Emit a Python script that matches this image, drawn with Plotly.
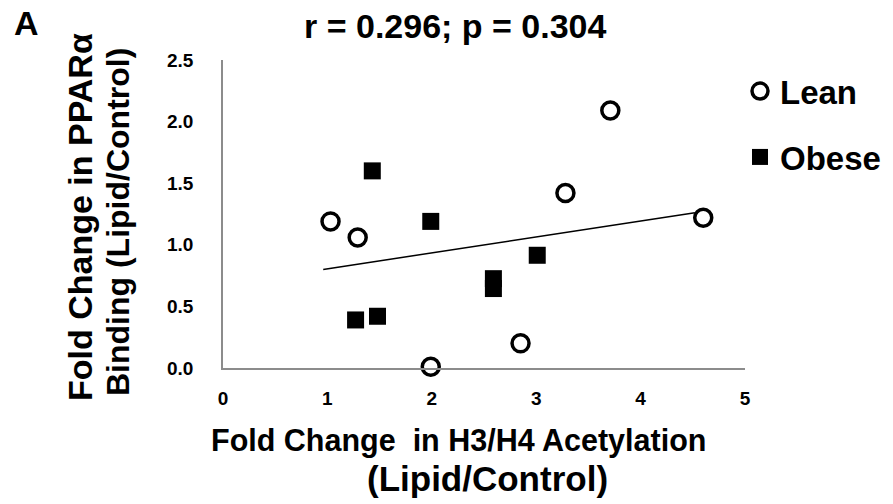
import plotly.graph_objects as go

# Data
lean_x = [1.03, 1.29, 1.99, 2.85, 3.28, 3.71, 4.60]
lean_y = [1.19, 1.06, 0.01, 0.20, 1.42, 2.09, 1.22]
obese_x = [1.43, 1.99, 1.27, 1.48, 2.59, 2.59, 3.01]
obese_y = [1.60, 1.19, 0.39, 0.42, 0.725, 0.645, 0.915]
# Linear trendline as drawn in the reference (end points)
trend_x = [0.96, 4.52]
trend_y = [0.80, 1.26]
x_ticks = [0, 1, 2, 3, 4, 5]
y_ticks = [0.0, 0.5, 1.0, 1.5, 2.0, 2.5]
title_text = "r = 0.296; p = 0.304"

FONT = "Arial, 'Liberation Sans', sans-serif"
W, H = 893, 504
pl, pr, pt, pb = 223, 148, 60, 136
pw, ph = W - pl - pr, H - pt - pb

fig = go.Figure()
fig.add_trace(go.Scatter(
    x=trend_x, y=trend_y, mode="lines", line=dict(color="black", width=1.5),
    showlegend=False, hoverinfo="skip"))
fig.add_trace(go.Scatter(
    x=lean_x, y=lean_y, mode="markers", name="Lean", legendgroup="lean",
    marker=dict(symbol="circle", size=17, color="white",
                line=dict(color="black", width=3.5)),
    cliponaxis=False))
fig.add_trace(go.Scatter(
    x=obese_x, y=obese_y, mode="markers", name="Obese", legendgroup="obese",
    marker=dict(symbol="square", size=17, color="black",
                line=dict(color="black", width=0)),
    cliponaxis=False))

fig.update_layout(
    width=W, height=H,
    margin=dict(l=pl, r=pr, t=pt, b=pb, autoexpand=False),
    paper_bgcolor="white", plot_bgcolor="white",
    font=dict(family=FONT, color="black"),
    showlegend=True,
    legend=dict(x=(740 - pl) / pw, xanchor="left", y=0.99, yanchor="top",
                font=dict(size=33, family=FONT, color="black", weight="bold"),
                tracegroupgap=20, itemsizing="trace",
                bgcolor="rgba(0,0,0,0)"),
    xaxis=dict(range=[0, 5], tickvals=x_ticks, ticktext=[str(v) for v in x_ticks],
               showgrid=False, zeroline=False, showline=True,
               linecolor="#8c8c8c", linewidth=1.5, ticks="",
               tickfont=dict(size=19, family=FONT, color="black", weight="bold"),
               ticklabelstandoff=12, fixedrange=True, automargin=False),
    yaxis=dict(range=[0, 2.5], tickvals=y_ticks, ticktext=[f"{v:.1f}" for v in y_ticks],
               showgrid=False, zeroline=False, showline=True,
               linecolor="#8c8c8c", linewidth=1.5, ticks="",
               tickfont=dict(size=19, family=FONT, color="black", weight="bold"),
               ticklabelstandoff=24, fixedrange=True, automargin=False),
)


def px_to_paper(x, y):
    return (x - pl) / pw, (H - pb - y) / ph


annos = [
    dict(text="<b>A</b>", x=26, y=23, size=34, angle=0),
    dict(text=f"<b>{title_text}</b>", x=455, y=26, size=34, angle=0),
    dict(text="<b>Fold Change  in H3/H4 Acetylation</b>", x=458, y=441, size=30.5, angle=0),
    dict(text="<b>(Lipid/Control)</b>", x=487, y=478, size=35, angle=0),
    dict(text="<b>Fold Change in PPARα</b>", x=80, y=217, size=34, angle=-90),
    dict(text="<b>Binding (Lipid/Control)</b>", x=118, y=222, size=32, angle=-90),
]
for a in annos:
    px, py = px_to_paper(a["x"], a["y"])
    fig.add_annotation(text=a["text"], xref="paper", yref="paper", x=px, y=py,
                       xanchor="center", yanchor="middle", showarrow=False,
                       textangle=a["angle"],
                       font=dict(size=a["size"], family=FONT, color="black"))

fig.write_html("out.html")
